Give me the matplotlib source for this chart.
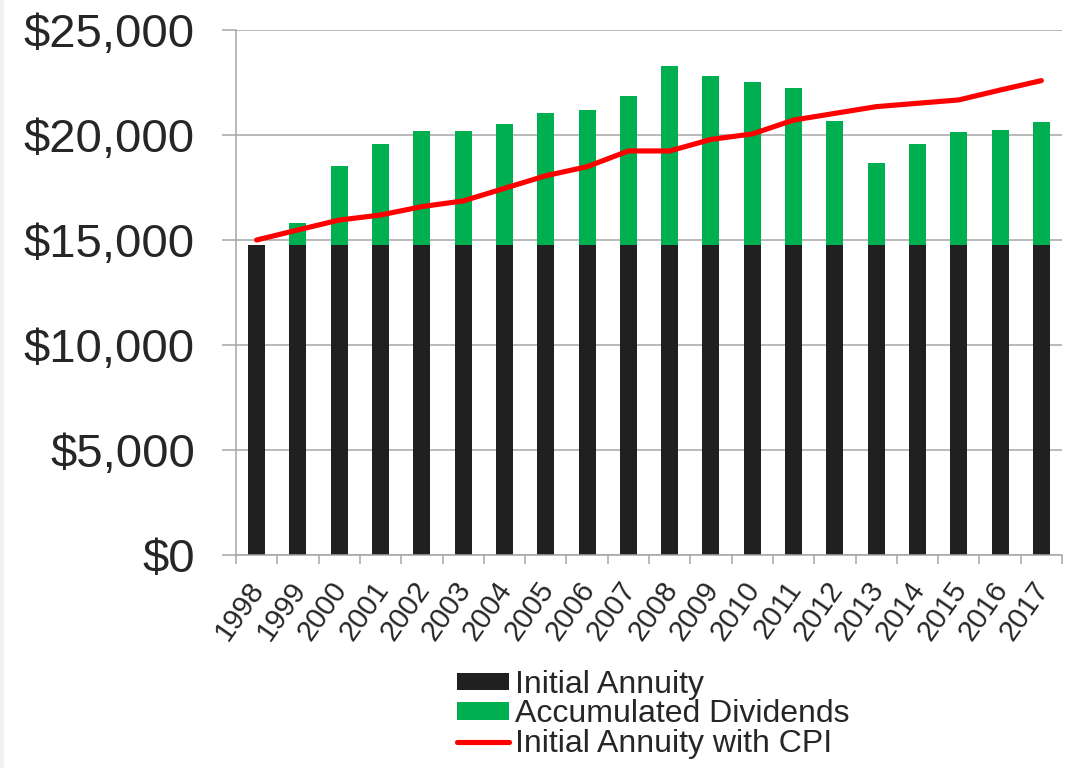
import numpy as np
import matplotlib
matplotlib.use("Agg")
from matplotlib import pyplot as plt
from matplotlib.transforms import ScaledTranslation
from matplotlib.patches import Rectangle

plt.rcParams['font.family'] = ['Liberation Sans', 'DejaVu Sans']

years = [str(y) for y in range(1998, 2018)]
initial = [14750] * 20
# top of the green bars (initial + dividends)
total = [14750, 15800, 18520, 19570, 20200, 20200, 20510, 21030, 21210, 21840,
         23290, 22810, 22510, 22220, 20670, 18670, 19560, 20130, 20220, 20630]
cpi = [15000, 15480, 15950, 16190, 16590, 16860, 17460, 18060, 18490, 19240,
       19240, 19790, 20050, 20710, 21030, 21350, 21510, 21670, 22140, 22590]
dividends = [t - i for t, i in zip(total, initial)]

txt = '#262626'
grid = '#a6a6a6'

fig = plt.figure(figsize=(10.76, 7.68), dpi=100)
fig.add_artist(Rectangle((0, 0), 4 / 1076, 1, transform=fig.transFigure,
                         color='#f0f0f0', lw=0))
ax = fig.add_axes([236 / 1076, 1 - 555 / 768, 826 / 1076, 525 / 768])

x = np.arange(len(years))
b1 = ax.bar(x, initial, width=0.41, color='#202020', label='Initial Annuity', zorder=2)
b2 = ax.bar(x, dividends, width=0.41, bottom=initial, color='#00b050',
            label='Accumulated Dividends', zorder=2)
l1, = ax.plot(x, cpi, color='#ff0000', lw=3.7, solid_capstyle='round',
              label='Initial Annuity with CPI', zorder=3)

ax.set_xlim(-0.5, len(years) - 0.5)
ax.set_ylim(0, 25000)
ax.set_yticks(np.arange(0, 25001, 5000))
ax.set_yticklabels(['${:,}'.format(v) for v in range(0, 25001, 5000)])
ax.yaxis.grid(True, color=grid, lw=1.1)
ax.set_axisbelow(True)

for s in ['top', 'right']:
    ax.spines[s].set_visible(False)
for s in ['left', 'bottom']:
    ax.spines[s].set_color(grid)
    ax.spines[s].set_linewidth(1.1)

ax.tick_params(axis='y', length=10, width=1.1, color=grid, pad=19.5,
               labelsize=34, labelcolor=txt)
ax.set_xticks(x)
ax.set_xticks(np.arange(-0.5, len(years)), minor=True)
ax.tick_params(axis='x', which='major', length=0, pad=21)
ax.tick_params(axis='x', which='minor', length=6.5, width=1.1, color=grid)
ax.set_xticklabels(years, rotation=55, ha='right', va='center',
                   rotation_mode='anchor', fontsize=21, color=txt)
off = ScaledTranslation(2 / 100, 0, fig.dpi_scale_trans)
for lab in ax.get_xticklabels():
    lab.set_transform(lab.get_transform() + off)

fig.legend([b1, b2, l1], [b1.get_label(), b2.get_label(), l1.get_label()],
           loc='upper left', bbox_to_anchor=(457 / 1076, 1 - 670 / 768),
           frameon=False, fontsize=23, handlelength=1.62, handleheight=0.47,
           handletextpad=0.21, labelspacing=-0.02, borderpad=0,
           borderaxespad=0, labelcolor=txt)

fig.savefig('out.png', dpi=100)
